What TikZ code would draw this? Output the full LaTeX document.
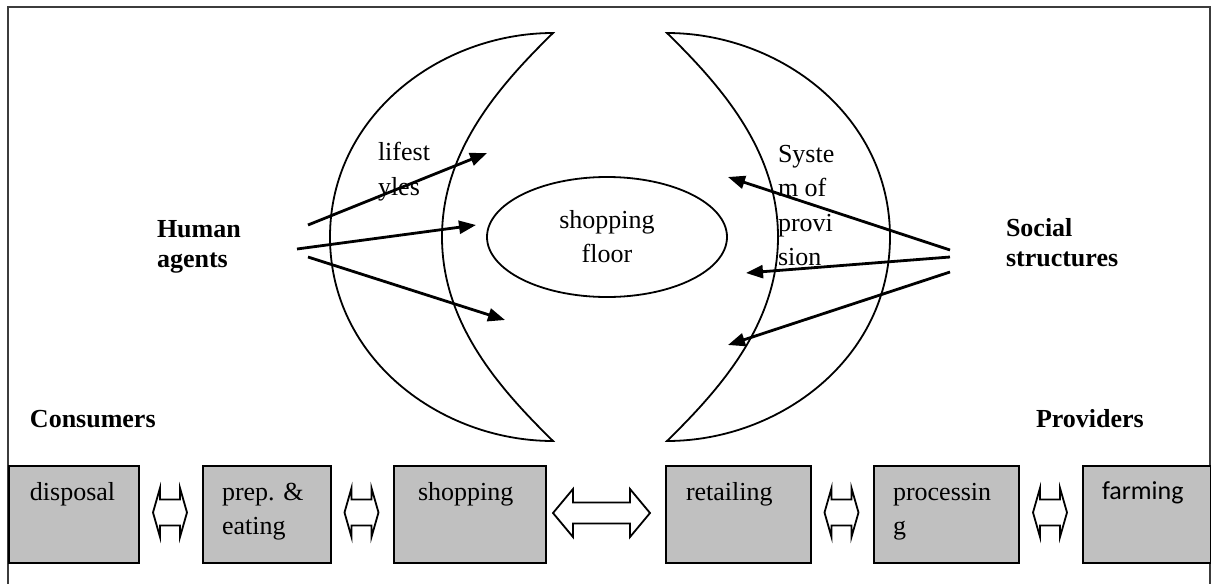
\documentclass[tikz,border=0pt]{standalone}
\usepackage{fontspec}
\setmainfont{Liberation Serif}
\newfontfamily\calibrifont{Carlito}
\usetikzlibrary{arrows.meta,calc,shapes.geometric}
\definecolor{boxgray}{HTML}{C0C0C0}
\definecolor{framegray}{HTML}{3C3C3C}
\newcommand\mlines[2]{\vtop{\baselineskip=#1pt\relax #2}}
\tikzset{
  smalldbl/.pic={\draw[blockarrow] (-17,0) -- (-10,-24.5) -- (-10,-13) -- (10,-13) -- (10,-24.5) -- (17,0) -- (10,24.5) -- (10,13) -- (-10,13) -- (-10,24.5) -- cycle;},
  bigdbl/.pic={\draw[blockarrow] (-48.5,0) -- (-28.5,-24) -- (-28.5,-10.5) -- (28.5,-10.5) -- (28.5,-24) -- (48.5,0) -- (28.5,24) -- (28.5,10.5) -- (-28.5,10.5) -- (-28.5,24) -- cycle;}
}
\begin{document}
\begin{tikzpicture}[x=1pt,y=-1pt,
  txt/.style={anchor=base west,inner sep=0pt,outer sep=0pt,font=\fontsize{26}{30}\selectfont},
  boldtxt/.style={txt,font=\fontsize{26}{30}\selectfont\bfseries},
  stagebox/.style={draw=black,line width=1.8pt,fill=boxgray,anchor=north west,minimum height=97pt,inner sep=0pt},
  agentarrow/.style={line width=2.8pt,-{Triangle[length=17pt,width=13pt]}},
  moonline/.style={line width=1.8pt},
  blockarrow/.style={draw=black,fill=white,line width=1.8pt,line join=miter}
]
\useasboundingbox (0,0) rectangle (1211,584);
% frame
\draw[framegray,line width=1.8pt] (8,590) -- (8,7) -- (1210,7) -- (1210,590);

% crescents
\draw[moonline] (553,33) .. controls (441,33) and (330,115) .. (330,237)
  .. controls (330,359) and (441,441) .. (553,441)
  .. controls (500,389) and (442,324) .. (442,237)
  .. controls (442,150) and (500,85) .. (553,33) -- cycle;
\draw[moonline] (667,33) .. controls (779,33) and (890,115) .. (890,237)
  .. controls (890,359) and (779,441) .. (667,441)
  .. controls (720,389) and (778,324) .. (778,237)
  .. controls (778,150) and (720,85) .. (667,33) -- cycle;

% shopping floor
\node[draw,ellipse,line width=1.8pt,minimum width=240pt,minimum height=120pt,inner sep=0pt,
  align=center,font=\fontsize{26}{34}\selectfont] (floor) at (607,237) {shopping\\floor};

% texts
\node[txt] (lifestyles) at (378,160) {\mlines{35}{\hbox{lifest}\hbox{yles}}};
\node[txt] (sop) at (778,162) {\mlines{34.5}{\hbox{Syste}\hbox{m of}\hbox{provi}\hbox{sion}}};
\node[boldtxt] (human) at (157,237) {\mlines{30}{\hbox{Human}\hbox{agents}}};
\node[boldtxt] (social) at (1006,236) {\mlines{30}{\hbox{Social}\hbox{structures}}};
\node[boldtxt] (consumers) at (30,427) {Consumers};
\node[boldtxt] (providers) at (1036,427) {Providers};

% arrows
\coordinate (ha1s) at (308,225); \coordinate (ha1e) at (487,153);
\coordinate (ha2s) at (297,249); \coordinate (ha2e) at (476,225);
\coordinate (ha3s) at (308,257); \coordinate (ha3e) at (505,320);
\coordinate (ss1s) at (950,250); \coordinate (ss1e) at (728,177);
\coordinate (ss2s) at (950,257); \coordinate (ss2e) at (746,273);
\coordinate (ss3s) at (950,272); \coordinate (ss3e) at (728,345);
\draw[agentarrow] (ha1s) -- (ha1e);
\draw[agentarrow] (ha2s) -- (ha2e);
\draw[agentarrow] (ha3s) -- (ha3e);
\draw[agentarrow] (ss1s) -- (ss1e);
\draw[agentarrow] (ss2s) -- (ss2e);
\draw[agentarrow] (ss3s) -- (ss3e);

% stage boxes
\node[stagebox,minimum width=130pt] (disposal) at (8,465) {};
\node[stagebox,minimum width=128pt] (prep) at (202,465) {};
\node[stagebox,minimum width=152pt] (shopping) at (393,465) {};
\node[stagebox,minimum width=145pt] (retailing) at (665,465) {};
\node[stagebox,minimum width=145pt] (processing) at (873,465) {};
\node[stagebox,minimum width=128pt] (farming) at (1082,465) {};

\node[txt] (tdisposal) at (30,500) {disposal};
\node[txt] (tprep) at (222,500) {\mlines{34}{\hbox{prep. \&}\hbox{eating}}};
\node[txt] (tshopping) at (418,500) {shopping};
\node[txt] (tretailing) at (686,500) {retailing};
\node[txt] (tprocessing) at (893,500) {\mlines{34}{\hbox{processin}\hbox{g}}};
\node[txt,font=\fontsize{26}{30}\calibrifont] (tfarming) at (1102,499) {farming};

% block double arrows
\pic at (170,512.5) {smalldbl};
\pic at (361.5,512.5) {smalldbl};
\pic at (601.5,513) {bigdbl};
\pic at (841.5,512.5) {smalldbl};
\pic at (1050,512.5) {smalldbl};
\end{tikzpicture}
\end{document}
